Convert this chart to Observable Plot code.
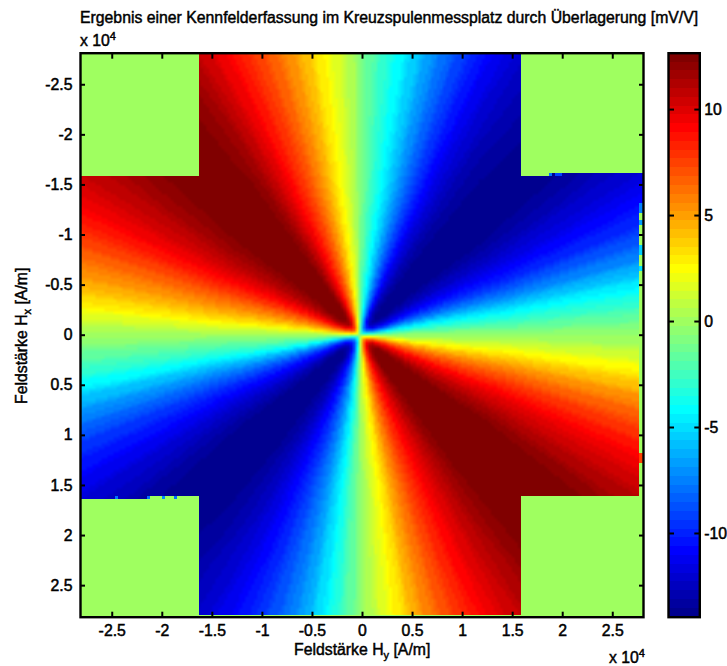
<!DOCTYPE html>
<html><head><meta charset="utf-8">
<script src="https://cdn.jsdelivr.net/npm/d3@7"></script>
<script src="https://cdn.jsdelivr.net/npm/@observablehq/plot@0.6"></script>
<style>
html,body{margin:0;padding:0;background:#fff}
#chart{position:relative;width:727px;height:666px;overflow:hidden;font-family:"Liberation Sans",Arial,sans-serif;color:#000}
#chart svg{position:absolute;top:0;background:transparent}
#chart svg g[aria-label$="tick label"] text{stroke:#000;stroke-width:0.5px}
.t{position:absolute;white-space:nowrap;-webkit-text-stroke:0.45px #000;line-height:1}
.t sub,.t sup{font-size:70%;line-height:0}
</style></head><body><div id="chart"></div>
<script>
// Field strength axes [A/m]
const axisDomain = [-28150, 28150];
const xDomain = [-28170, 28070];
const tickValues = [-25000,-20000,-15000,-10000,-5000,0,5000,10000,15000,20000,25000];
const barDomain = [-13.95, 12.66];
const barTicks = [-10,-5,0,5,10];

// Reading [mV/V] along rays from the centre, every 3 degrees, clockwise on screen from the +Hy direction
const rayDegrees = [0,3,6,9,12,15,18,21,24,27,30,33,36,39,42,45,48,51,54,57,60,63,66,69,72,75,78,81,84,87,
 90,93,96,99,102,105,108,111,114,117,120,123,126,129,132,135,138,141,144,147,150,153,156,159,162,165,168,171,174,177,
 180,183,186,189,192,195,198,201,204,207,210,213,216,219,222,225,228,231,234,237,240,243,246,249,252,255,258,261,264,267,
 270,273,276,279,282,285,288,291,294,297,300,303,306,309,312,315,318,321,324,327,330,333,336,339,342,345,348,351,354,357];
const rayValues = [-0.3,1,2.4,3.9,5.4,6.7,7.8,8.9,9.8,10.6,11.4,12.1,12.6,12.9,13.1,13.1,13,12.7,12.3,11.7,11,10.2,9.4,8.5,7.5,6.3,5,3.3,2,0.7,
 -0.6,-2,-3.8,-5.3,-6.9,-8.1,-9.2,-10.2,-11,-11.8,-12.5,-13,-13.5,-13.8,-14,-14,-14,-13.8,-13.4,-12.8,-12.2,-11.4,-10.6,-9.7,-8.5,-7.2,-5.7,-4,-2.6,-1.4,
 0,1.4,3,4.3,5.5,6.5,7.6,8.6,9.5,10.3,11,11.6,12.1,12.5,12.9,13,13,12.8,12.4,11.9,11,10,9,8,7,5.8,4.6,3.2,2,0.7,
 -0.6,-2,-3.3,-4.5,-5.8,-7.2,-8.5,-9.7,-10.8,-11.7,-12.4,-13,-13.4,-13.7,-14,-14,-14,-13.8,-13.4,-12.9,-12.3,-11.6,-10.8,-10,-8.8,-7.5,-5.9,-4.3,-3,-1.6];
// Radii [A/m] and the share of the ray reading reached there
const ringRadius = [0,300,800,1500,2500,15000,45000];
const ringShare = [0,0.2,0.6,0.9,1,1,0.94];
const centre = {hy:-300, hx:0, v:-0.5};

// Unmeasured areas and edge strips: Hy from, Hy to, Hx from, Hx to, reading
const patchHy1 = [-28170,15850,-28170,-21180,15850,15850,-28170,27670,27670,27670,27670,27670,27670,27670,27670,27670,18700,19300,-24700,-21500,-20000,-18800];
const patchHy2 = [-16280,28070,-16280,-16280,28070,18700,28070,28070,28070,28070,28070,28070,28070,28070,28070,28070,19000,20000,-24400,-21200,-19700,-18500];
const patchHx1 = [-28150,16140,16360,16140,-28150,-16100,27940,-13140,-12140,-11470,-10980,-8980,-7980,-6810,-6310,11800,-16100,-16100,16140,16140,16140,16140];
const patchHx2 = [-15800,28150,28150,16360,-16100,-15800,28150,-12140,-11470,-10980,-8980,-7980,-6810,-6310,16140,12800,-15800,-15800,16360,16360,16360,16360];
const patchV = [0,0,0,0,0,0,0,-7.5,0,-6.5,0,-5.5,0,-5,0,7.5,-8,-9,-8,-8,-7,-8];

const points = [];
ringRadius.forEach((r,k)=>{
  if(r===0){points.push({hy:centre.hy,hx:centre.hx,v:centre.v});return;}
  rayDegrees.forEach((deg,i)=>{
    const a = deg*Math.PI/180;
    points.push({hy:centre.hy+r*Math.cos(a),hx:centre.hx+r*Math.sin(a),v:centre.v+ringShare[k]*(rayValues[i]-centre.v)});
  });
});
const patches = patchV.map((v,i)=>({x1:patchHy1[i],x2:patchHy2[i],y1:patchHx1[i],y2:patchHx2[i],v}));

// 64-level jet colormap
const clamp = c=>Math.max(0,Math.min(1,c));
const jet = d3.range(1,65).map(k=>{const t=k/64;
  return d3.rgb(255*clamp(Math.min(4*t-1.5,4.5-4*t)),255*clamp(Math.min(4*t-.5,3.5-4*t)),255*clamp(Math.min(4*t+.5,2.5-4*t))).formatHex();});
const colorScale = {type:"quantize",domain:barDomain,range:jet};
const fmt = d=>String(d/10000);

const main = Plot.plot({
  width:727,height:666,marginLeft:80,marginRight:84,marginTop:52.7,marginBottom:49.3,
  style:{fontFamily:'"Liberation Sans",Arial,sans-serif',fontSize:"15.8px",color:"#000",overflow:"visible"},
  x:{domain:xDomain,label:null},
  y:{domain:axisDomain,reverse:true,label:null},
  color:colorScale,
  marks:[
    Plot.raster(points,{x:"hy",y:"hx",fill:"v",interpolate:"barycentric",pixelSize:3,
      x1:xDomain[0],x2:xDomain[1],y1:axisDomain[0],y2:axisDomain[1]}),
    Plot.rect(patches,{x1:"x1",x2:"x2",y1:"y1",y2:"y2",fill:"v",inset:0,shapeRendering:"crispEdges"}),
    Plot.axisX({anchor:"bottom",ticks:tickValues,tickFormat:fmt,tickSize:-5,tickPadding:13,strokeWidth:2,label:null,fontSize:15.8}),
    Plot.axisX({anchor:"top",ticks:tickValues,text:null,tickSize:-5,strokeWidth:2,label:null}),
    Plot.axisY({anchor:"left",ticks:tickValues,tickFormat:fmt,tickSize:-5,tickPadding:13,strokeWidth:2,label:null,fontSize:15.8}),
    Plot.axisY({anchor:"right",ticks:tickValues,text:null,tickSize:-5,strokeWidth:2,label:null}),
    Plot.frame({stroke:"#000",strokeWidth:2.4})
  ]
});
main.style.left="0";

const levels = d3.range(64).map(i=>{
  const w=(barDomain[1]-barDomain[0])/64;
  return {lo:barDomain[0]+i*w,hi:barDomain[0]+(i+1)*w,mid:barDomain[0]+(i+.5)*w};
});
const bar = Plot.plot({
  width:87,height:666,marginLeft:28,marginRight:27.7,marginTop:52.7,marginBottom:49.3,
  style:{fontFamily:'"Liberation Sans",Arial,sans-serif',fontSize:"15.8px",color:"#000",overflow:"visible"},
  x:{domain:[0,1],axis:null,label:null},
  y:{domain:barDomain,label:null},
  color:colorScale,
  marks:[
    Plot.rect(levels,{x1:0,x2:1,y1:"lo",y2:"hi",fill:"mid",inset:0,shapeRendering:"crispEdges"}),
    Plot.axisY({anchor:"right",ticks:barTicks,tickFormat:String,tickSize:-6,tickPadding:10.5,strokeWidth:2,label:null,fontSize:15.8}),
    Plot.axisY({anchor:"left",ticks:barTicks,text:null,tickSize:-6,strokeWidth:2,label:null}),
    Plot.frame({stroke:"#000",strokeWidth:2.4})
  ]
});
bar.style.left="640px";

const root=document.getElementById("chart");
root.append(main,bar);
const add=(html,css)=>{const d=document.createElement("div");d.className="t";d.innerHTML=html;d.style.cssText=css;root.append(d);};
add("Ergebnis einer Kennfelderfassung im Kreuzspulenmessplatz durch Überlagerung [mV/V]","left:80px;top:10px;font-size:15.8px");
add("x 10<sup>4</sup>","left:80px;top:33px;font-size:15.8px");
add("Feldstärke H<sub>y</sub> [A/m]","left:294px;top:642px;font-size:15.8px");
add("x 10<sup>4</sup>","left:609px;top:650px;font-size:15.8px");
add("Feldstärke H<sub>x</sub> [A/m]","left:14px;top:404px;font-size:15.8px;transform-origin:0 0;transform:rotate(-90deg)");
</script></body></html>
